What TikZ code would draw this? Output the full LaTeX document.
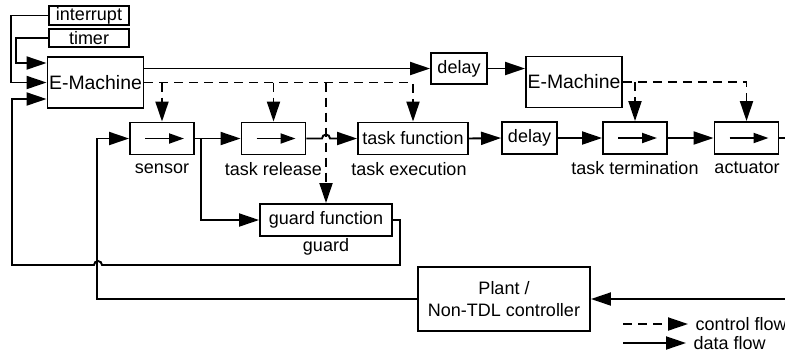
\documentclass[tikz,border=0pt]{standalone}
\usepackage{fontspec}
\setmainfont{Liberation Sans}
\usetikzlibrary{arrows.meta,positioning,calc}

\begin{document}
\begin{tikzpicture}[x=0.5pt,y=-0.5pt,line width=0.95pt,
  font=\fontsize{9}{10.6}\selectfont,
  box/.style={draw,inner sep=0pt,minimum height=16pt},
  flowbox/.style={box,minimum width=32pt,path picture={
    \draw[-{Triangle[length=7.5pt,width=5pt]}] ([xshift=-8.5pt]path picture bounding box.center) -- ([xshift=11pt]path picture bounding box.center);}},
  emach/.style={box,minimum width=48pt,minimum height=25.5pt,font=\fontsize{9.7}{11}\selectfont},
  data/.style={-{Triangle[length=10pt,width=6.5pt]}},
  ctrl/.style={data,dash pattern=on 4.5pt off 3pt}]
  \useasboundingbox (0,0) rectangle (785,355);
  \clip (0,0) rectangle (785,355);
  \node[box,minimum width=40pt,minimum height=9.5pt] (intr)  at (89,15.5) {interrupt};
  \node[box,minimum width=40pt,minimum height=9pt]   (timer) at (89,38)   {timer};
  \node[emach] (em1)   at (95.5,82.5) {E-Machine};
  \node[box,minimum width=28pt,minimum height=15.5pt] (delayA) at (459,68.5) {delay};
  \node[emach] (em2)   at (574,82)    {E-Machine};
  \node[flowbox] (sensor)      at (162,138.5) {};
  \node[flowbox] (release)     at (273.5,138.5) {};
  \node[box,minimum width=55pt] (taskfn) at (413,138.5) {task function};
  \node[box,minimum width=27.5pt] (delayB) at (529.5,138) {delay};
  \node[flowbox] (termination) at (635,138) {};
  \node[flowbox] (actuator)    at (746.5,138) {};
  \node[box,minimum width=66pt] (guardfn) at (326,220) {guard function};
  \node[box,minimum width=86pt,minimum height=32pt,align=center] (plant) at (504,299) {Plant /\\Non-TDL controller};
  \node (lsensor)  at (162,169)   {sensor};
  \node (lrelease) at (273.5,169) {task release};
  \node (lexec)    at (409,169)   {task execution};
  \node (lterm)    at (635,168)   {task termination};
  \node (lact)     at (747,168)   {actuator};
  \node (lguard)   at (326,247)   {guard};
  \node[anchor=west] (lctrl) at (688,324) {control flow};
  \node[anchor=west] (ldata) at (686,343) {data flow};
  \coordinate (hop) at (98,265);
  \draw[data] (timer.west) -- ++(-32,0) |- ($(em1.west)+(0,-19.5)$);
  \draw[data] (intr.west) -- ++(-37,0) |- (em1.west);
  \draw[data] (guardfn.east) -- ++(7,0) |- ($(hop)+(4,0)$) arc[start angle=0,end angle=180,radius=2pt] -- (12,265) |- ($(em1.west)+(0,16.5)$);
  \draw[data] (plant.west) -- ++(-320,0) |- (sensor.west);
  \draw[data] (actuator.east) -- ++(30,0) |- (plant.east);
  \draw[data] (em1.east |- delayA.west) -- (delayA.west);
  \draw[data] (delayA.east) -- (delayA.east -| em2.west);
  \draw[ctrl] (em1.east) -| (taskfn.north);
  \draw[ctrl] (sensor.north |- em1.east) -- (sensor.north);
  \draw[ctrl] (release.north |- em1.east) -- (release.north);
  \draw[ctrl] (guardfn.north |- em1.east) -- (guardfn.north);
  \draw[ctrl] (em2.east) -| (actuator.north);
  \draw[ctrl] (termination.north |- em2.east) -- (termination.north);
  \draw[data] (sensor.east) -- (release.west);
  \draw[data] (sensor.east) -- ++(6,0) |- (guardfn.west);
  \draw[data] (release.east) -- ($(release.east -| guardfn.north)+(-4,0)$) arc[start angle=180,end angle=0,radius=2pt] -- (taskfn.west);
  \draw[data] (taskfn.east) -- (delayB.west);
  \draw[data] (delayB.east) -- (termination.west);
  \draw[data] (termination.east) -- (actuator.west);
  \draw[ctrl] ($(lctrl.west)+(-65,0)$) -- (lctrl.west);
  \draw[data] ($(ldata.west)+(-63,0)$) -- (ldata.west);
\end{tikzpicture}
\end{document}
